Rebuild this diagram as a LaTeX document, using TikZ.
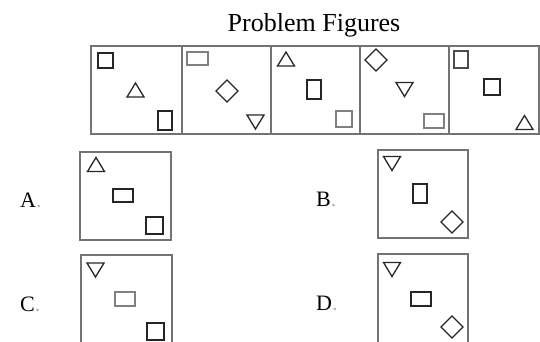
\documentclass[tikz,border=0pt]{standalone}
\usepackage{fontspec}
\setmainfont{Liberation Serif}
\begin{document}
\begin{tikzpicture}[x=1pt,y=-1pt,
  cell/.style={draw=black!55,line width=1.6pt},
  shp/.style={draw=black!85,line width=1.3pt,line join=miter},
  gshp/.style={draw=black!50,line width=1.3pt,line join=miter},
  lab/.style={anchor=base west,inner sep=0pt,font=\fontsize{22}{24}\selectfont},
  upT/.pic={\draw[pic actions] (-8.5,7)--(8.5,7)--(0,-7)--cycle;},
  dnT/.pic={\draw[pic actions] (-8.5,-7)--(8.5,-7)--(0,7)--cycle;},
  dia/.pic={\draw[pic actions] (-11,0)--(0,-11)--(11,0)--(0,11)--cycle;}]
\useasboundingbox (0,0) rectangle (540,341);
\clip (0,0) rectangle (540,341);
% title
\node[anchor=base,inner sep=0pt,font=\fontsize{26}{28}\selectfont] (title) at (314,31) {Problem Figures};
% problem figure cells
\node[cell,minimum width=91pt,minimum height=88pt,inner sep=0pt,anchor=north west] (p1) at (90,45) {};
\node[cell,minimum width=89pt,minimum height=88pt,inner sep=0pt,anchor=north west] (p2) at (181,45) {};
\node[cell,minimum width=89pt,minimum height=88pt,inner sep=0pt,anchor=north west] (p3) at (270,45) {};
\node[cell,minimum width=89pt,minimum height=88pt,inner sep=0pt,anchor=north west] (p4) at (359,45) {};
\node[cell,minimum width=90pt,minimum height=88pt,inner sep=0pt,anchor=north west] (p5) at (448,45) {};
% cell 1
\draw[shp] (98,53) rectangle (113,68);
\pic[shp] at (135.5,90) {upT};
\draw[shp] (158,111) rectangle (172,130);
% cell 2
\draw[gshp] (187,52) rectangle (208,65);
\pic[shp] at (227,91) {dia};
\pic[shp] at (255.5,122) {dnT};
% cell 3
\pic[shp] at (286,59) {upT};
\draw[shp] (307,80) rectangle (321,99);
\draw[gshp] (336,111) rectangle (352,127);
% cell 4
\pic[shp] at (376,60) {dia};
\pic[shp] at (404.5,89.5) {dnT};
\draw[gshp] (424,114) rectangle (444,128);
% cell 5
\draw[shp,draw=black!70] (454,51) rectangle (468,68);
\draw[shp] (484,79) rectangle (500,95);
\pic[shp] at (524.5,122.5) {upT};
% answer options
\node[cell,minimum width=91pt,minimum height=88pt,inner sep=0pt,anchor=north west] (oa) at (79,151) {};
\node[cell,minimum width=90pt,minimum height=88pt,inner sep=0pt,anchor=north west] (ob) at (377,149) {};
\node[cell,minimum width=91pt,minimum height=106pt,inner sep=0pt,anchor=north west] (oc) at (80,254) {};
\node[cell,minimum width=90pt,minimum height=107pt,inner sep=0pt,anchor=north west] (od) at (377,253) {};
\node[lab] (la) at (20,207) {A\textcolor{black!30}{.}};
\node[lab] (lb) at (316,206) {B\textcolor{black!30}{.}};
\node[lab] (lc) at (20,311) {C\textcolor{black!30}{.}};
\node[lab] (ld) at (316,310) {D\textcolor{black!30}{.}};
% A
\pic[shp] at (96,164.5) {upT};
\draw[shp] (113,189) rectangle (133,202);
\draw[shp] (146,217) rectangle (163,234);
% B
\pic[shp] at (392,163.5) {dnT};
\draw[shp] (413,184) rectangle (427,203);
\pic[shp] at (452,222) {dia};
% C
\pic[shp] at (95.5,270) {dnT};
\draw[gshp] (115,292) rectangle (135,306);
\draw[shp] (147,323) rectangle (164,340);
% D
\pic[shp] at (392,269.5) {dnT};
\draw[shp] (411,292) rectangle (431,306);
\pic[shp] at (452,327) {dia};
\end{tikzpicture}
\end{document}
